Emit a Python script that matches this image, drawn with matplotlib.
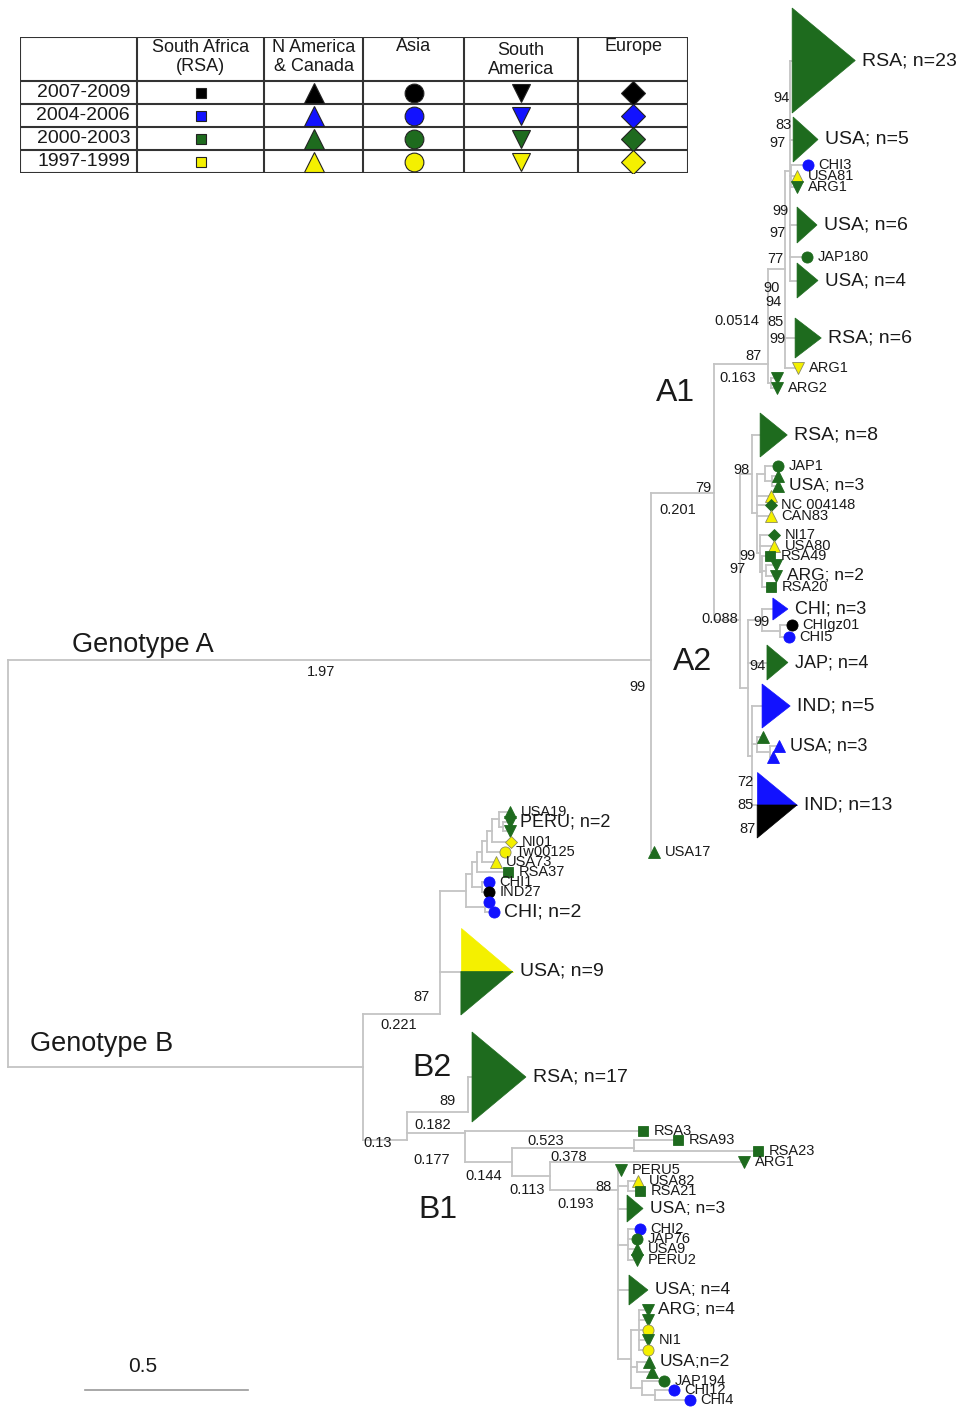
import numpy as np
import matplotlib.pyplot as plt
from matplotlib.patches import Polygon

plt.rcParams['font.family'] = ['Liberation Sans', 'DejaVu Sans']

GREEN = '#1e6b1e'
BLUE = '#1212ff'
YELLOW = '#f4f000'
BLACK = '#000000'
LINE = '#c4c4c4'
TXT = '#1a1a1a'
g, b, y, k = GREEN, BLUE, YELLOW, BLACK

# legend table
regions = ['South Africa\n(RSA)', 'N America\n& Canada', 'Asia', 'South\nAmerica', 'Europe']
region_markers = ['s', '^', 'o', 'v', 'D']
periods = ['2007-2009', '2004-2006', '2000-2003', '1997-1999']
period_colors = [BLACK, BLUE, GREEN, YELLOW]


# tree building blocks: depth in substitutions/site, y = tip row
def tip(d, yy, label, m, c, fs=10.5):
    return ('tip', d, yy, label, m, c, fs)


def clade(d, y0, y1, length, cols, label, fs=13.5):
    return ('clade', d, y0, y1, length, cols, label, fs)


def node(d, kids, at=None):
    return ('node', d, kids, at)


# ---- genotype A ----
A1_upper = node(2.391, [
    clade(2.398, 8, 113, 0.193, [g], 'RSA; n=23', 14),
    clade(2.401, 117, 162, 0.076, [g], 'USA; n=5', 14),
    node(2.395, [tip(2.446, 165, 'CHI3', 'o', b),
                 tip(2.413, 176, 'USA81', '^', y),
                 tip(2.413, 187, 'ARG1', 'v', g)]),
    clade(2.413, 207, 243, 0.061, [g], 'USA; n=6', 14),
    tip(2.443, 257, 'JAP180', 'o', g),
    clade(2.413, 263, 298, 0.064, [g], 'USA; n=4', 13.5),
])
A1_sub = node(2.376, [A1_upper,
                      clade(2.407, 318, 358, 0.080, [g], 'RSA; n=6', 14),
                      tip(2.416, 368, 'ARG1', 'v', y)])
A1 = node(2.324, [node(2.333, [tip(2.352, 378, '', 'v', g),
                               tip(2.352, 388, 'ARG2', 'v', g)]),
                  A1_sub], at=364)

node98 = node(2.291, [
    node(2.315, [tip(2.355, 466, 'JAP1', 'o', g),
                 node(2.336, [tip(2.355, 476, '', '^', g),
                              tip(2.355, 486, 'USA; n=3', '^', g, 12.5)])]),
    tip(2.333, 496, '', '^', y),
    tip(2.333, 505, 'NC 004148', 'D', g),
    tip(2.333, 516, 'CAN83', '^', y),
    node(2.300, [tip(2.343, 535, 'NI17', 'D', g),
                 tip(2.343, 546, 'USA80', '^', y),
                 node(2.306, [tip(2.330, 556, 'RSA49', 's', g),
                              node(2.318, [tip(2.349, 565, '', 'v', g),
                                           tip(2.349, 576, 'ARG; n=2', 'v', g, 12.5)]),
                              tip(2.333, 587, 'RSA20', 's', g)])]),
])
A2a = node(2.275, [clade(2.300, 413, 457, 0.083, [g], 'RSA; n=8', 14), node98])
A2b = node(2.263, [
    node(2.306, [clade(2.339, 598, 620, 0.046, [b], 'CHI; n=3', 13),
                 node(2.361, [tip(2.398, 625, 'CHIgz01', 'o', k),
                              tip(2.388, 637, 'CHI5', 'o', b)])]),
    clade(2.321, 645, 680, 0.064, [g], 'JAP; n=4', 13),
    node(2.275, [clade(2.306, 684, 728, 0.086, [b], 'IND; n=5', 14),
                 node(2.291, [tip(2.309, 737, '', '^', g),
                              node(2.330, [tip(2.358, 746, 'USA; n=3', '^', b, 13),
                                           tip(2.339, 757, '', '^', b)])]),
                 clade(2.291, 772, 838, 0.122, [b, k], 'IND; n=13', 14)]),
])
A2 = node(2.239, [A2a, A2b], at=620)
genoA = node(1.966, [node(2.159, [A1, A2], at=493),
                     tip(1.976, 852, 'USA17', '^', g)], at=660)

# ---- genotype B ----
n7 = node(1.500, [tip(1.535, 812, 'USA19', '^', g),
                  node(1.515, [tip(1.535, 822, 'PERU; n=2', 'v', g, 13),
                               tip(1.535, 831, '', 'v', g)])])
n6 = node(1.480, [n7, tip(1.538, 842, 'NI01', 'D', y)])
n5 = node(1.465, [n6, tip(1.520, 852, 'Tw00125', 'o', y)])
n4 = node(1.450, [n5, tip(1.492, 862, 'USA73', '^', y)])
n3 = node(1.435, [n4, tip(1.529, 872, 'RSA37', 's', g)])
n2 = node(1.420, [n3, node(1.450, [tip(1.471, 882, 'CHI1', 'o', b),
                                   tip(1.471, 892, 'IND27', 'o', k)])])
n1 = node(1.400, [n2, node(1.460, [tip(1.471, 902, '', 'o', b),
                                   tip(1.486, 912, 'CHI; n=2', 'o', b, 14)])])
B2a = node(1.321, [n1, clade(1.385, 928, 1015, 0.159, [y, g], 'USA; n=9', 14)], at=1014)

bottom = node(1.865, [
    tip(1.875, 1170, 'PERU5', 'v', g),
    node(1.896, [tip(1.927, 1181, 'USA82', '^', y),
                 tip(1.933, 1191, 'RSA21', 's', g)]),
    clade(1.893, 1195, 1222, 0.049, [g], 'USA; n=3', 12.5),
    node(1.896, [tip(1.933, 1229, 'CHI2', 'o', b),
                 tip(1.924, 1239, 'JAP76', 'o', g),
                 tip(1.924, 1249, 'USA9', '^', g),
                 tip(1.924, 1260, 'PERU2', 'v', g)]),
    clade(1.899, 1275, 1305, 0.058, [g], 'USA; n=4', 12.5),
    node(1.905, [
        node(1.930, [tip(1.957, 1310, 'ARG; n=4', 'v', g, 12.5),
                     tip(1.957, 1320, '', 'v', g),
                     tip(1.957, 1330, '', 'o', y),
                     tip(1.957, 1340, 'NI1', 'v', g),
                     tip(1.957, 1350, '', 'o', y)]),
        node(1.925, [tip(1.960, 1362, 'USA;n=2', '^', g, 12.5),
                     tip(1.969, 1372, '', '^', g)]),
        node(1.940, [tip(2.006, 1381, 'JAP194', 'o', g),
                     node(1.980, [tip(2.037, 1390, 'CHI12', 'o', b),
                                  tip(2.086, 1400, 'CHI4', 'o', b)])]),
    ]),
], at=1190)
node550 = node(1.657, [tip(2.251, 1162, 'ARG1', 'v', g), bottom], at=1176)
node512 = node(1.541, [node(1.915, [tip(2.049, 1140, 'RSA93', 's', g),
                                    tip(2.294, 1151, 'RSA23', 's', g)], at=1148),
                       node550], at=1162)
B1 = node(1.398, [tip(1.942, 1131, 'RSA3', 's', g), node512], at=1133)
Blow = node(1.220, [node(1.407, [clade(1.419, 1032, 1122, 0.165, [g], 'RSA; n=17', 14)], at=1112),
                    B1], at=1140)
genoB = node(1.086, [B2a, Blow], at=1067)

tree = node(0.0, [genoA, genoB])

# text annotations (x in pixels on the scale, y row)
notes = [
    ('Genotype A', 143, 645, 19.5), ('Genotype B', 102, 1044, 19.5),
    ('1.97', 321, 672, 10.5), ('99', 637, 687, 10.5),
    ('79', 703, 488, 10.5), ('0.201', 678, 510, 10.5),
    ('A1', 675, 393, 23), ('A2', 693, 662, 23),
    ('0.163', 738, 378, 10.5), ('87', 754, 356, 10.5), ('0.0514', 737, 321, 10.5),
    ('85', 776, 322, 10.5), ('99', 777, 339, 10.5), ('90', 772, 288, 10.5),
    ('94', 773, 302, 10.5), ('77', 775, 259, 10.5), ('99', 780, 211, 10.5),
    ('97', 778, 233, 10.5), ('83', 783, 125, 10.5), ('97', 778, 143, 10.5),
    ('94', 781, 98, 10.5),
    ('98', 742, 470, 10.5), ('99', 747, 556, 10.5), ('97', 738, 569, 10.5),
    ('0.088', 720, 619, 10.5), ('99', 761, 622, 10.5), ('94', 758, 666, 10.5),
    ('72', 745, 782, 10.5), ('85', 746, 805, 10.5), ('87', 747, 829, 10.5),
    ('87', 422, 997, 10.5), ('0.221', 399, 1025, 10.5), ('B2', 432, 1068, 23),
    ('89', 448, 1101, 10.5), ('0.182', 433, 1125, 10.5), ('0.13', 378, 1143, 10.5),
    ('0.177', 432, 1160, 10.5), ('0.523', 546, 1141, 10.5), ('0.378', 569, 1157, 10.5),
    ('0.144', 484, 1176, 10.5), ('0.113', 527, 1190, 10.5), ('88', 603, 1187, 10.5),
    ('0.193', 576, 1204, 10.5), ('B1', 438, 1210, 23),
    ('0.5', 143, 1366, 15),
]

PX0, PX_PER_UNIT = 8, 327.0
msize = {'o': 8, '^': 8, 'v': 8, 's': 6.5, 'D': 6}

fig = plt.figure(figsize=(9.57, 14.08), dpi=100)
ax = fig.add_axes([0, 0, 1, 1])
ax.set_xlim(-PX0 / PX_PER_UNIT, (957 - PX0) / PX_PER_UNIT)
ax.set_ylim(1408, 0)
ax.axis('off')


def draw(n):
    if n[0] == 'tip':
        _, d, yy, label, m, c, fs = n
        ec = '#8a8a60' if c == YELLOW else c
        ax.plot(d, yy, marker=m, ms=msize[m], color=c, mec=ec, mew=0.6, zorder=4)
        if label:
            ax.text(d + 0.032, yy, label, fontsize=fs, ha='left', va='center',
                    color=TXT, zorder=5)
        return yy
    if n[0] == 'clade':
        _, d, y0, y1, L, cols, label, fs = n
        mid = (y0 + y1) / 2
        if len(cols) == 1:
            ax.add_patch(Polygon([(d, y0), (d, y1), (d + L, mid)], closed=True,
                                 fc=cols[0], ec=cols[0], lw=0.5, zorder=3))
        else:
            ax.add_patch(Polygon([(d, y0), (d, mid), (d + L, mid)], closed=True,
                                 fc=cols[0], ec=cols[0], lw=0.5, zorder=3))
            ax.add_patch(Polygon([(d, mid), (d, y1), (d + L, mid)], closed=True,
                                 fc=cols[1], ec=cols[1], lw=0.5, zorder=3))
        ax.text(d + L + 0.021, mid, label, fontsize=fs, ha='left', va='center',
                color=TXT, zorder=5)
        return mid
    _, d, kids, at = n
    ys = []
    for kid in kids:
        ky = draw(kid)
        ax.plot([d, kid[1]], [ky, ky], color=LINE, lw=1.3, zorder=1)
        ys.append(ky)
    span = ys + ([at] if at is not None else [])
    ax.plot([d, d], [min(span), max(span)], color=LINE, lw=1.3, zorder=1)
    return at if at is not None else (min(ys) + max(ys)) / 2


draw(tree)

for txt, px, py, fs in notes:
    ax.text((px - PX0) / PX_PER_UNIT, py, txt, fontsize=fs, ha='center', va='center',
            color=TXT)

# scale bar
ax.plot([0.235, 0.735], [1390, 1390], color='#999999', lw=1.2)

# ---- legend table ----
tax = fig.add_axes([20 / 957, 1 - 173 / 1408, 668 / 957, 136 / 1408])
tax.set_xlim(0, 668)
tax.set_ylim(136, 0)
tax.axis('off')
col_w = [117, 127, 99, 101, 114, 110]
row_h = [44, 23, 23, 23, 23]
xe = np.concatenate([[0], np.cumsum(col_w)])
ye = np.concatenate([[0], np.cumsum(row_h)])
for xv in xe:
    tax.plot([xv, xv], [0, 136], color='#333333', lw=1.5)
for yv in ye:
    tax.plot([0, 668], [yv, yv], color='#333333', lw=1.5)
tsize = {'s': 7.5, '^': 14.5, 'o': 13.5, 'v': 13.5, 'D': 12}
for j, reg in enumerate(regions):
    cx = (xe[j + 1] + xe[j + 2]) / 2
    top = 2 if '\n' in reg else 1
    if reg.startswith('South\n'):
        top = 5
    tax.text(cx, top, reg, fontsize=13, ha='center', va='top', linespacing=1.15,
             color=TXT)
    for i, (per, pc) in enumerate(zip(periods, period_colors)):
        cy = (ye[i + 1] + ye[i + 2]) / 2
        m = region_markers[j]
        tax.plot(cx, cy + 0.5, marker=m, ms=tsize[m], color=pc, mec='#222222', mew=0.8)
for i, per in enumerate(periods):
    cy = (ye[i + 1] + ye[i + 2]) / 2
    tax.text(xe[1] - 7, cy, per, fontsize=14, ha='right', va='center', color=TXT)

fig.savefig('out.png', dpi=100)
